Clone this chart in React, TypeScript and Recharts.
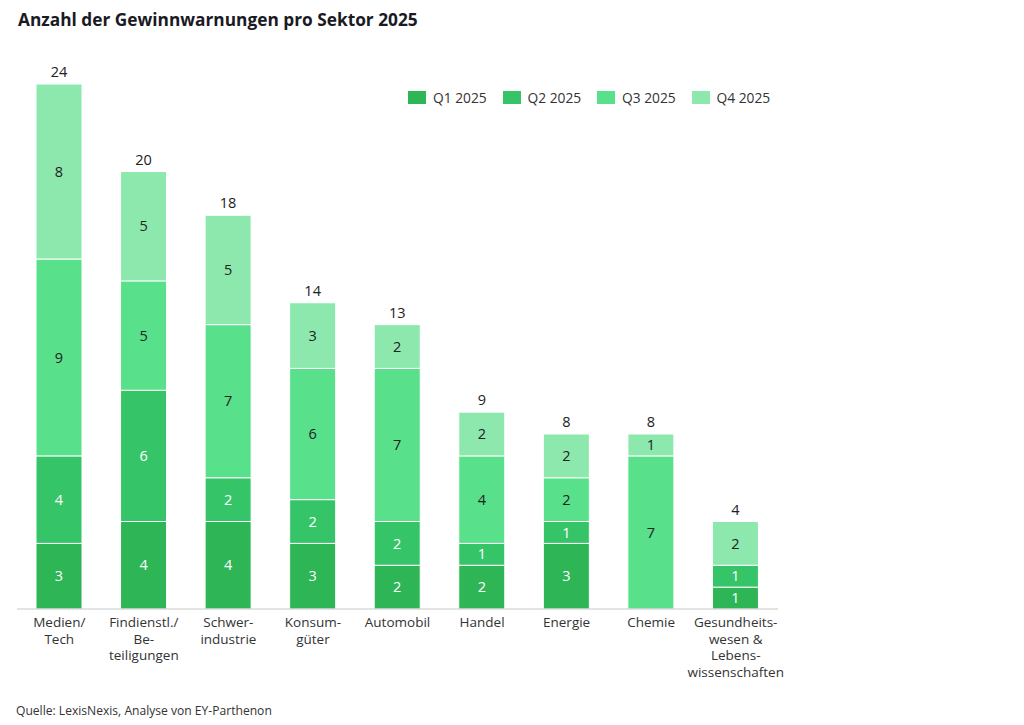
import { BarChart, Bar, XAxis, YAxis, LabelList } from 'recharts';

const sectors = [
  'Medien/\nTech',
  'Findienstl./\nBe-\nteiligungen',
  'Schwer-\nindustrie',
  'Konsum-\ngüter',
  'Automobil',
  'Handel',
  'Energie',
  'Chemie',
  'Gesundheits-\nwesen &\nLebens-\nwissenschaften',
];
const q1 = [3, 4, 4, 3, 2, 2, 3, 0, 1];
const q2 = [4, 6, 2, 2, 2, 1, 1, 0, 1];
const q3 = [9, 5, 7, 6, 7, 4, 2, 7, 0];
const q4 = [8, 5, 5, 3, 2, 2, 2, 1, 2];

const seriesNames = ['Q1 2025', 'Q2 2025', 'Q3 2025', 'Q4 2025'];
const colors = ['#2db556', '#36c469', '#58e08a', '#8de8ae'];
const labelColors = ['#ffffff', '#ffffff', '#222222', '#222222'];

const data = sectors.map((name, i) => ({
  name,
  q1: q1[i],
  q2: q2[i],
  q3: q3[i],
  q4: q4[i],
  total: q1[i] + q2[i] + q3[i] + q4[i],
}));

const FONT = '"Open Sans", sans-serif';

function SectorTick(props: any) {
  const { x, y, payload } = props;
  const lines = String(payload.value).split('\n');
  return (
    <text x={x} y={y} textAnchor="middle" fill="#333" fontSize={13.5} fontFamily={FONT}>
      {lines.map((l, i) => (
        <tspan key={i} x={x} dy={i === 0 ? '0.75em' : 16.5}>
          {l}
        </tspan>
      ))}
    </text>
  );
}

const hideZero = (v: any) => (v ? v : '');

export default function App() {
  const keys = ['q1', 'q2', 'q3', 'q4'];
  return (
    <div style={{ position: 'absolute', left: 0, top: 0, width: 1024, height: 725, background: '#fff', fontFamily: FONT }}>
      <div style={{ position: 'absolute', left: 18, top: 8, fontSize: 17.3, fontWeight: 700, color: '#1a1a24' }}>
        Anzahl der Gewinnwarnungen pro Sektor 2025
      </div>

      <div style={{ position: 'absolute', left: 408, top: 88, display: 'flex', fontSize: 13.8, color: '#333' }}>
        {seriesNames.map((s, i) => (
          <div key={s} style={{ display: 'flex', alignItems: 'center', width: 94.5 }}>
            <span style={{ display: 'inline-block', width: 18, height: 13, background: colors[i], marginRight: 7 }} />
            <span>{s}</span>
          </div>
        ))}
      </div>

      <BarChart
        width={1024}
        height={725}
        data={data}
        margin={{ top: 84, right: 246, bottom: 86, left: 17 }}
      >
        <XAxis
          dataKey="name"
          tickLine={false}
          axisLine={{ stroke: '#c8c8c8' }}
          tick={<SectorTick />}
          interval={0}
        />
        <YAxis hide domain={[0, 24]} />
        {keys.map((k, i) => (
          <Bar
            key={k}
            dataKey={k}
            stackId="a"
            fill={colors[i]}
            stroke="#ffffff"
            strokeWidth={1}
            barSize={46}
            isAnimationActive={false}
          >
            <LabelList
              dataKey={k}
              position="center"
              formatter={hideZero}
              fill={labelColors[i]}
              fontSize={14.5}
              fontFamily={FONT}
            />
            {k === 'q4' && (
              <LabelList
                dataKey="total"
                position="top"
                offset={7}
                fill="#222"
                fontSize={14.5}
                fontFamily={FONT}
              />
            )}
          </Bar>
        ))}
      </BarChart>

      <div style={{ position: 'absolute', left: 16, top: 702, fontSize: 12.1, color: '#333' }}>
        Quelle: LexisNexis, Analyse von EY-Parthenon
      </div>
    </div>
  );
}
